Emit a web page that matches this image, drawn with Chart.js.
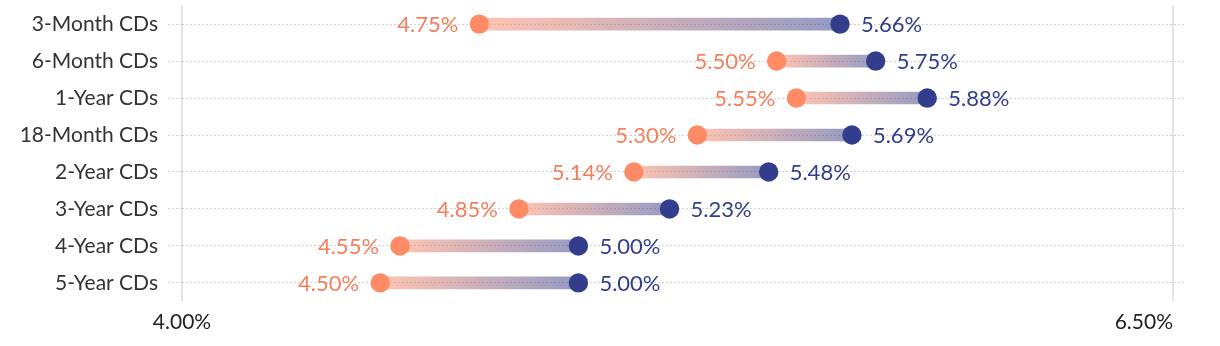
<!DOCTYPE html>
<html>
<head>
<meta charset="utf-8">
<script src="https://cdn.jsdelivr.net/npm/chart.js@4"></script>
<style>
  html, body { margin: 0; padding: 0; background: #fff; }
  #wrap { width: 1220px; height: 346px; }
</style>
</head>
<body>
<div id="wrap"><canvas id="cdChart"></canvas></div>
<script>
var categories = ['3-Month CDs', '6-Month CDs', '1-Year CDs', '18-Month CDs', '2-Year CDs', '3-Year CDs', '4-Year CDs', '5-Year CDs'];
var lowRates = [4.75, 5.50, 5.55, 5.30, 5.14, 4.85, 4.55, 4.50];
var highRates = [5.66, 5.75, 5.88, 5.69, 5.48, 5.23, 5.00, 5.00];
var xTicks = [4.00, 6.50];

var ORANGE = '#ff8a66';
var ORANGE_TEXT = '#f47f5c';
var BLUE = '#323e8b';
var FONT = 'Lato';

var ranges = lowRates.map(function (v, i) { return [v, highRates[i]]; });

function pct(v) { return v.toFixed(2) + '%'; }

var valueLabels = {
	id: 'valueLabels',
	afterDatasetsDraw: function (chart) {
		var c = chart.ctx;
		c.save();
		c.font = '22px ' + FONT;
		c.textBaseline = 'middle';
		chart.getDatasetMeta(0).data.forEach(function (pt, i) {
			c.fillStyle = ORANGE_TEXT;
			c.textAlign = 'right';
			c.fillText(pct(lowRates[i]), pt.x - 21, pt.y + 1);
		});
		chart.getDatasetMeta(1).data.forEach(function (pt, i) {
			c.fillStyle = BLUE;
			c.textAlign = 'left';
			c.fillText(pct(highRates[i]), pt.x + 21, pt.y + 1);
		});
		c.restore();
	}
};

// first x label centred, last one right-aligned on its tick
var tickAlign = {
	id: 'tickAlign',
	beforeDraw: function (chart) {
		var items = chart.scales.x.getLabelItems();
		if (items.length) items[0].options.textAlign = 'center';
	}
};

var ctx = document.getElementById('cdChart');
var chart = new Chart(ctx, {
	type: 'bar',
	data: {
		labels: categories,
		datasets: [{
			type: 'line',
			data: lowRates,
			showLine: false,
			pointRadius: 9.7,
			pointHoverRadius: 9.7,
			pointBorderWidth: 0,
			pointBackgroundColor: ORANGE,
			order: 1
		}, {
			type: 'line',
			data: highRates,
			showLine: false,
			pointRadius: 9.7,
			pointHoverRadius: 9.7,
			pointBorderWidth: 0,
			pointBackgroundColor: BLUE,
			order: 1
		}, {
			data: ranges,
			barThickness: 12,
			borderSkipped: false,
			order: 2,
			backgroundColor: function (c) {
				var area = c.chart.chartArea;
				if (!area || c.type !== 'data') return 'rgba(200,160,170,0.5)';
				var x = c.chart.scales.x;
				var x0 = x.getPixelForValue(c.raw[0]);
				var x1 = x.getPixelForValue(c.raw[1]);
				var g = c.chart.ctx.createLinearGradient(x0, 0, x1, 0);
				g.addColorStop(0, 'rgba(255,138,102,0.5)');
				g.addColorStop(1, 'rgba(50,62,139,0.52)');
				return g;
			}
		}]
	},
	options: {
		indexAxis: 'y',
		responsive: true,
		maintainAspectRatio: false,
		animation: false,
		events: [],
		layout: { autoPadding: false, padding: { top: 5.6, bottom: 2.4, left: 0, right: 34 } },
		plugins: {
			legend: { display: false },
			tooltip: { enabled: false }
		},
		scales: {
			x: {
				type: 'linear',
				min: 4,
				max: 6.5328,
				afterBuildTicks: function (scale) {
					scale.ticks = xTicks.map(function (v) { return { value: v }; });
				},
				border: { display: false },
				grid: { color: '#e4e4e4', lineWidth: 2, drawTicks: false },
				ticks: {
					align: 'inner',
					padding: 8.5,
					maxRotation: 0,
					color: '#222',
					font: { family: FONT, size: 21 },
					callback: function (v) { return pct(v); }
				}
			},
			y: {
				type: 'category',
				afterFit: function (scale) {
					scale.width = 182;
					scale.paddingTop = 0;
					scale.paddingBottom = 0;
				},
				border: { display: false, dash: [2, 2] },
				grid: {
					offset: false,
					color: '#d2d2d2',
					lineWidth: 1,
					tickBorderDash: [2, 2],
					tickColor: '#d2d2d2',
					tickLength: 14
				},
				ticks: {
					padding: 10,
					color: '#333',
					font: { family: FONT, size: 21 }
				}
			}
		}
	},
	plugins: [valueLabels, tickAlign]
});
</script>
</body>
</html>
